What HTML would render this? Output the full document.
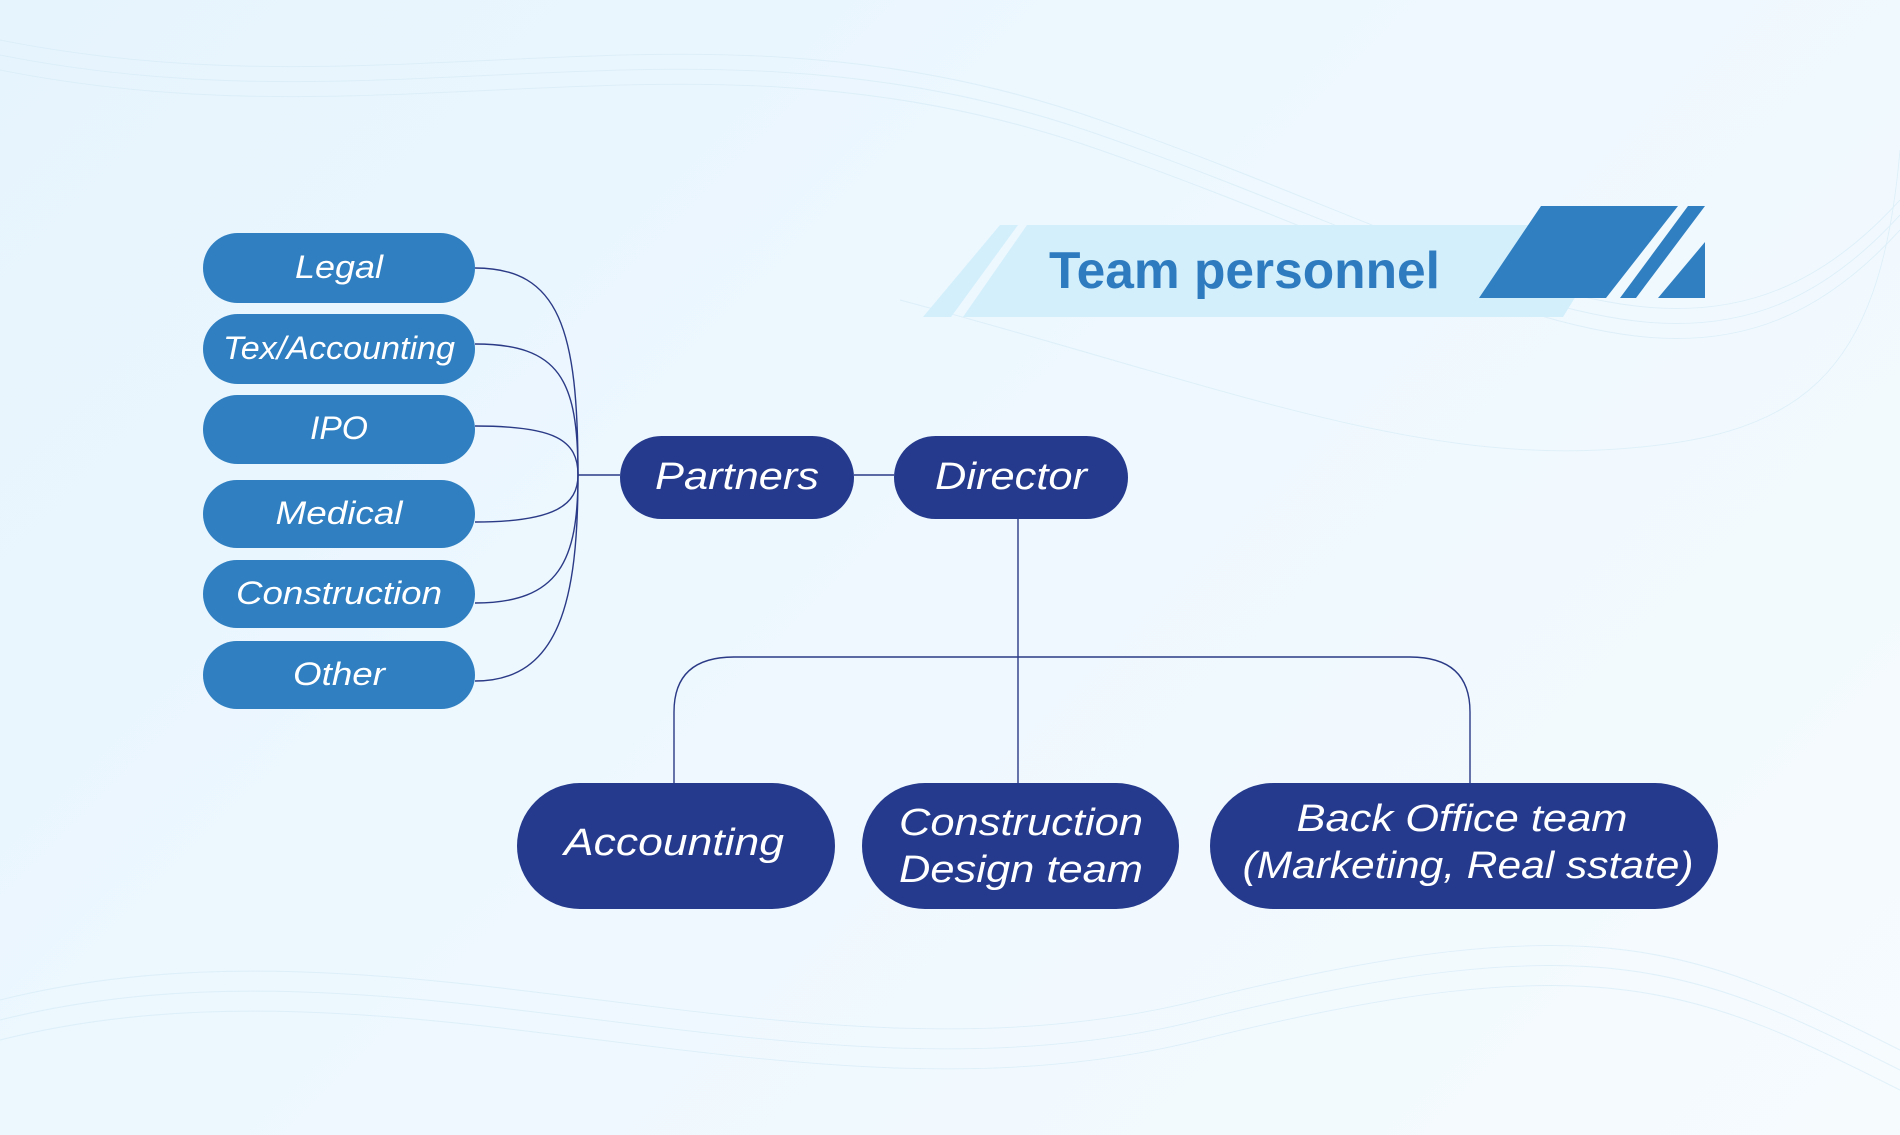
<!DOCTYPE html>
<html><head><meta charset="utf-8"><style>
html,body{margin:0;padding:0}
body{width:1900px;height:1135px;overflow:hidden;background:linear-gradient(135deg,#e6f4fd 0%,#eef8fe 50%,#f6fbfe 100%);font-family:"Liberation Sans",sans-serif}
svg{position:absolute;left:0;top:0}
</style></head><body>
<svg width="1900" height="1135" viewBox="0 0 1900 1135">
  <g fill="none" stroke="#d8ecf7" stroke-width="1" opacity="0.7">
    <path d="M0,40 C400,120 700,-20 1100,120 S1700,420 1900,200"/>
    <path d="M0,55 C400,135 700,-5 1100,135 S1700,435 1900,215"/>
    <path d="M0,70 C400,150 700,10 1100,150 S1700,450 1900,230"/>
    <path d="M900,300 C1200,380 1400,460 1600,450 S1880,380 1900,150"/>
    <path d="M0,1000 C400,900 800,1100 1200,1000 S1700,950 1900,1050"/>
    <path d="M0,1020 C400,920 800,1120 1200,1020 S1700,970 1900,1070"/>
    <path d="M0,1040 C400,940 800,1140 1200,1040 S1700,990 1900,1090"/>
  </g>
  <!-- title -->
  <polygon points="1027,225 1620,225 1563,317 963,317" fill="#d3effc"/>
  <polygon points="1000,225 1018,225 951,317 923,317" fill="#d3effc"/>
  <polygon points="1541,206 1678,206 1606,298 1479,298" fill="#2f7fc1"/>
  <polygon points="1688,206 1705,206 1636,298 1620,298" fill="#2f7fc1"/>
  <polygon points="1705,242 1705,298 1658,298" fill="#2f7fc1"/>
  <text x="1049" y="288" font-size="52" font-weight="bold" fill="#2e7bbf" textLength="391" lengthAdjust="spacingAndGlyphs">Team personnel</text>
  <!-- connectors -->
  <g fill="none" stroke="#2b3a86" stroke-width="1.4">
    <path d="M475,268 C560,268 578,330 578,475"/>
    <path d="M475,344 C560,344 578,380 578,475"/>
    <path d="M475,426 C555,426 578,440 578,475"/>
    <path d="M475,522 C555,522 578,505 578,475"/>
    <path d="M475,603 C560,603 578,560 578,475"/>
    <path d="M475,681 C560,681 578,600 578,475"/>
    <path d="M578,475 L620,475"/>
    <path d="M854,475 L894,475"/>
    <path d="M1018,519 L1018,783"/>
    <path d="M674,783 L674,712 Q674,657 734,657 L1410,657 Q1470,657 1470,712 L1470,783"/>
  </g>
  <!-- left pills -->
  <g fill="#2f7fc1">
    <rect x="203" y="233" width="272" height="70" rx="35"/>
    <rect x="203" y="314" width="272" height="70" rx="35"/>
    <rect x="203" y="395" width="272" height="69" rx="34.5"/>
    <rect x="203" y="480" width="272" height="68" rx="34"/>
    <rect x="203" y="560" width="272" height="68" rx="34"/>
    <rect x="203" y="641" width="272" height="68" rx="34"/>
  </g>
  <g fill="#fff" font-style="italic" font-size="32" text-anchor="middle">
    <text x="339" y="278" textLength="88" lengthAdjust="spacingAndGlyphs">Legal</text>
    <text x="339" y="359" textLength="232" lengthAdjust="spacingAndGlyphs">Tex/Accounting</text>
    <text x="339" y="439" textLength="58" lengthAdjust="spacingAndGlyphs">IPO</text>
    <text x="339" y="524" textLength="127" lengthAdjust="spacingAndGlyphs">Medical</text>
    <text x="339" y="604" textLength="206" lengthAdjust="spacingAndGlyphs">Construction</text>
    <text x="339" y="685" textLength="92" lengthAdjust="spacingAndGlyphs">Other</text>
  </g>
  <!-- dark boxes -->
  <g fill="#253a8c">
    <rect x="620" y="436" width="234" height="83" rx="41.5"/>
    <rect x="894" y="436" width="234" height="83" rx="41.5"/>
    <rect x="517" y="783" width="318" height="126" rx="63"/>
    <rect x="862" y="783" width="317" height="126" rx="63"/>
    <rect x="1210" y="783" width="508" height="126" rx="63"/>
  </g>
  <g fill="#fff" font-style="italic" font-size="38" text-anchor="middle">
    <text x="737" y="489" textLength="164" lengthAdjust="spacingAndGlyphs">Partners</text>
    <text x="1011" y="489" textLength="152" lengthAdjust="spacingAndGlyphs">Director</text>
    <text x="674" y="855" textLength="220" lengthAdjust="spacingAndGlyphs">Accounting</text>
    <text x="1021" y="835" textLength="244" lengthAdjust="spacingAndGlyphs">Construction</text>
    <text x="1021" y="882" textLength="244" lengthAdjust="spacingAndGlyphs">Design team</text>
    <text x="1462" y="831" textLength="331" lengthAdjust="spacingAndGlyphs">Back Office team</text>
    <text x="1468" y="878" textLength="451" lengthAdjust="spacingAndGlyphs">(Marketing, Real sstate)</text>
  </g>
</svg>
</body></html>
